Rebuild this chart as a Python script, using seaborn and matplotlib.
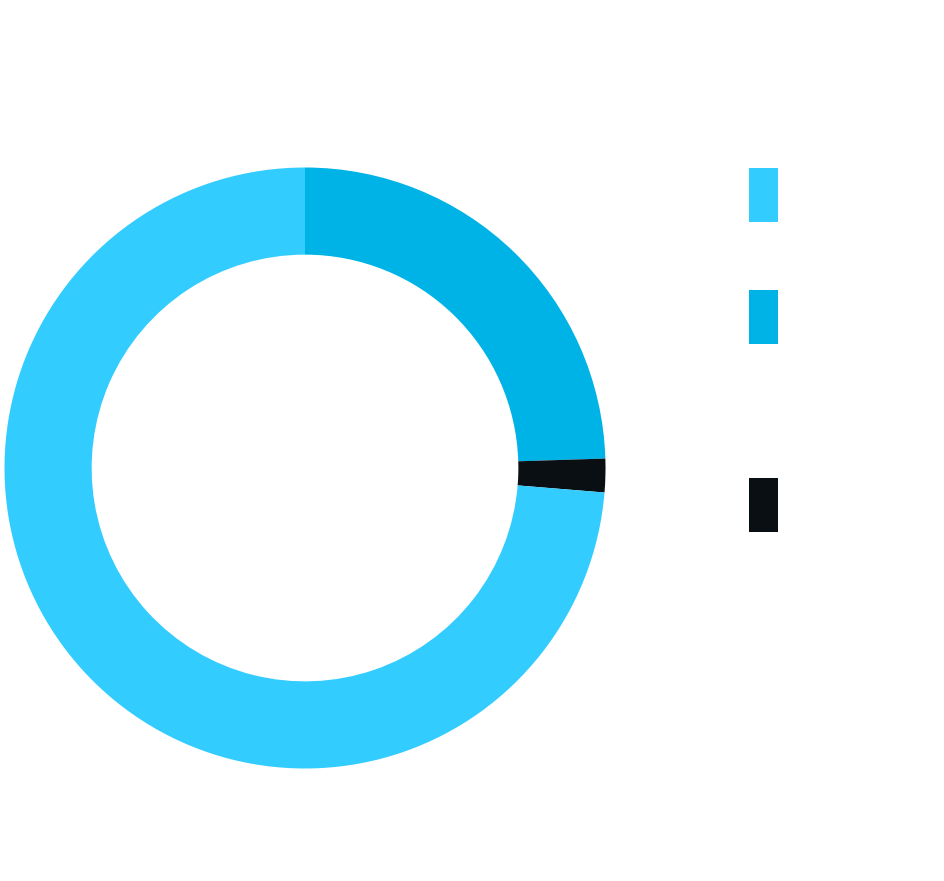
import matplotlib
matplotlib.use("Agg")
import matplotlib.pyplot as plt
import seaborn as sns
from matplotlib.patches import Rectangle

sns.set_theme(style="white")
plt.rcParams['font.family'] = ['Inter', 'DejaVu Sans']

# Data
categories = ["Full-time Contract", "Part-time", "Full-time Salaried"]
shares = [24.5, 1.8, 73.7]
pct_labels = ["25%", "2%", "73%"]
colors = ["#00B3E6", "#0A0F14", "#33CCFF"]

legend_titles = ["Full-time", "Full-time", "Part-time"]
legend_subs = ["Salaried", "Contract,\nInternship,\nApprenticeship,\nor Freelance", ""]
legend_colors = ["#33CCFF", "#00B3E6", "#0A0F14"]

W, H = 945, 881
fig = plt.figure(figsize=(W / 100, H / 100), dpi=100)
fig.patch.set_facecolor("white")

cx, cy, r = 305, 468, 300.5
ax = fig.add_axes([(cx - r) / W, 1 - (cy + r) / H, 2 * r / W, 2 * r / H])
ax.pie(shares, colors=colors, startangle=90, counterclock=False, radius=1,
       wedgeprops=dict(width=0.29, linewidth=0))
ax.set_xlim(-1, 1)
ax.set_ylim(-1, 1)
ax.set_aspect("equal")
ax.axis("off")

txtc = "white"
def fx(x): return x / W
def fy(y): return 1 - y / H

# percentage labels
pos = [(553, 226, "center"), (654, 480, "center"), (0, 686, "left")]
for (x, y, ha), lab in zip(pos, pct_labels):
    fig.text(fx(x), fy(y), lab, color=txtc, fontsize=23, fontweight="light",
             ha=ha, va="center")

# titles
fig.text(fx(0), fy(62), "Job Structure", color=txtc, fontsize=26,
         fontweight="bold", ha="left", va="center")
fig.text(fx(942), fy(62), "All Graduates", color=txtc, fontsize=27,
         fontweight="light", ha="right", va="center")

# legend
tops = [168, 290, 478]
for t, title, sub, col in zip(tops, legend_titles, legend_subs, legend_colors):
    fig.patches.append(Rectangle((fx(749), fy(t + 54)), 29 / W, 54 / H,
                                 transform=fig.transFigure, facecolor=col,
                                 edgecolor="none"))
    if sub:
        fig.text(fx(800), fy(t + 14), title, color=txtc, fontsize=22,
                 fontweight="bold", ha="left", va="center")
        fig.text(fx(800), fy(t + 41), sub, color=txtc, fontsize=13,
                 fontweight="bold", ha="left", va="top", linespacing=1.74)
    else:
        fig.text(fx(800), fy(t + 27), title, color=txtc, fontsize=24,
                 fontweight="light", ha="left", va="center")

fig.savefig("out.png", dpi=100, facecolor="white")
